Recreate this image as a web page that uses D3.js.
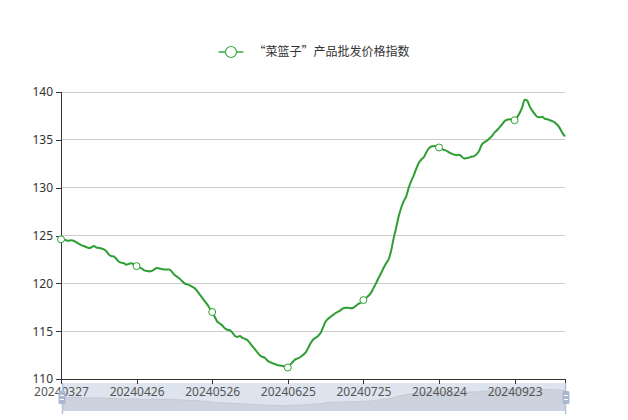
<!DOCTYPE html>
<html><head><meta charset="utf-8">
<script src="https://cdn.jsdelivr.net/npm/d3@7/dist/d3.min.js"></script>
<style>body{margin:0;background:#fff}svg{display:block;font-family:"Noto Sans","Noto Sans CJK SC",sans-serif}</style>
</head><body><svg id="c" width="628" height="420"></svg>
<script>
const seriesName = "“菜篮子”产品批发价格指数";
const startDate = "20240327";
const yTicks = [110, 115, 120, 125, 130, 135, 140];
const values = [
124.6,124.55,124.5,124.45,124.5,124.45,124.3,124.15,124.0,123.9,123.8,123.7,123.75,123.9,123.75,123.7,123.65,123.55,123.35,123.0,122.85,122.8,122.55,122.25,122.15,122.1,121.95,122.05,122.1,121.95,121.8,
121.7,121.55,121.35,121.3,121.25,121.3,121.45,121.6,121.55,121.5,121.45,121.45,121.45,121.2,120.9,120.7,120.5,120.25,120.0,119.9,119.8,119.65,119.5,119.2,118.85,118.5,118.15,117.8,117.4,117.0,
116.5,116.0,115.8,115.6,115.3,115.15,115.1,114.85,114.5,114.4,114.5,114.3,114.2,114.05,113.75,113.4,113.1,112.75,112.45,112.3,112.2,111.9,111.75,111.65,111.55,111.45,111.4,111.35,111.3,111.2,
111.5,111.8,112.05,112.15,112.3,112.5,112.75,113.2,113.7,114.1,114.3,114.5,114.8,115.4,116.0,116.3,116.5,116.7,116.9,117.05,117.2,117.4,117.45,117.45,117.4,117.45,117.65,117.85,118.0,118.25,
118.45,118.7,119.0,119.5,120.0,120.55,121.05,121.6,122.1,122.5,123.4,124.7,125.8,127.0,127.9,128.6,129.1,130.0,130.7,131.3,132.0,132.6,132.95,133.2,133.7,134.1,134.3,134.35,134.3,134.2,
134.05,133.95,133.85,133.7,133.55,133.45,133.4,133.45,133.25,133.05,133.1,133.15,133.25,133.3,133.5,133.9,134.5,134.75,134.9,135.15,135.4,135.75,136.0,136.3,136.6,136.95,137.1,137.15,137.1,137.05,
137.35,137.8,138.4,139.2,139.1,138.5,138.05,137.7,137.4,137.35,137.4,137.2,137.15,137.05,136.95,136.8,136.55,136.2,135.7,135.35
];
const labelInterval = 30;

// categories: consecutive days from start date
const parse = d3.timeParse("%Y%m%d"), fmt = d3.timeFormat("%Y%m%d");
const categories = values.map((v, i) => fmt(d3.timeDay.offset(parse(startDate), i)));

const svg = d3.select("#c");
const L = 61, R = 565, T = 92, B = 379;
const x = d3.scalePoint().domain(categories).range([L, R]);
const y = d3.scaleLinear().domain([110, 140]).range([B, T]);
const green = "#2e9e34";

// gridlines
svg.append("g").selectAll("line").data(yTicks.slice(1)).join("line")
  .attr("x1", L).attr("x2", R).attr("y1", d => y(d)).attr("y2", d => y(d))
  .attr("stroke", "#cccccc").attr("stroke-width", 1).attr("shape-rendering", "crispEdges");

// y axis
const yAxis = svg.append("g").attr("transform", `translate(${L},0)`)
  .call(d3.axisLeft(y).tickValues(yTicks).tickSize(5).tickPadding(3));
yAxis.select(".domain").attr("stroke", "#333").attr("shape-rendering", "crispEdges");
yAxis.selectAll(".tick line").attr("stroke", "#333").attr("shape-rendering", "crispEdges");
yAxis.selectAll("text").attr("fill", "#333").attr("font-size", 12).style("font-family", "'Noto Sans',sans-serif");

// line
const line = d3.line().x((d, i) => x(categories[i])).y(d => y(d)).curve(d3.curveMonotoneX);
svg.append("path").datum(values).attr("d", line).attr("fill", "none")
  .attr("stroke", green).attr("stroke-width", 2).attr("stroke-linejoin", "round");

// symbols at label interval
const symIdx = categories.map((c, i) => i).filter(i => i % labelInterval === 0 && i < values.length - 1);
svg.append("g").selectAll("circle").data(symIdx).join("circle")
  .attr("cx", i => x(categories[i])).attr("cy", i => y(values[i])).attr("r", 3.5)
  .attr("fill", "#fff").attr("stroke", green).attr("stroke-width", 1);

// slider background (dataZoom)
const sT = 383, sB = 411, sL = 62, sR = 566;
svg.append("rect").attr("x", sL).attr("y", sT).attr("width", sR - sL).attr("height", sB - sT)
  .attr("fill", "#dde4ee");
const ext = d3.extent(values), off = (ext[1] - ext[0]) * 0.3;
const ys = d3.scaleLinear().domain([ext[0] - off, ext[1] + off]).range([sB, sT]);
const xs = d3.scalePoint().domain(categories).range([sL, sR]);
const area = d3.area().x((d, i) => xs(categories[i])).y0(sB).y1(d => ys(d)).curve(d3.curveMonotoneX);
svg.append("path").datum(values).attr("d", area).attr("fill", "#ccd3de");
svg.append("path").datum(values).attr("d", d3.line().x((d, i) => xs(categories[i])).y(d => ys(d)).curve(d3.curveMonotoneX))
  .attr("fill", "none").attr("stroke", "#c3cad6").attr("stroke-width", 1);

// x axis
const xTickVals = categories.filter((c, i) => i % labelInterval === 0 || i === categories.length - 1);
const xAxis = svg.append("g").attr("transform", `translate(0,${B})`)
  .call(d3.axisBottom(x).tickValues(xTickVals).tickSize(5).tickPadding(3)
    .tickFormat((d, i) => categories.indexOf(d) % labelInterval === 0 ? d : ""));
xAxis.select(".domain").attr("stroke", "#333").attr("shape-rendering", "crispEdges");
xAxis.selectAll(".tick line").attr("stroke", "#333").attr("shape-rendering", "crispEdges");
xAxis.selectAll("text").attr("fill", "#555").attr("font-size", 12).style("font-family", "'Noto Sans',sans-serif");

// slider handles
svg.append("line").attr("x1", sL + 0.5).attr("x2", sL + 0.5).attr("y1", sT).attr("y2", 414)
  .attr("stroke", "#b4c0d4").attr("stroke-width", 1.5);
svg.append("line").attr("x1", sR - 0.5).attr("x2", sR - 0.5).attr("y1", sT).attr("y2", 414)
  .attr("stroke", "#b4c0d4").attr("stroke-width", 1.5);
[sL, sR].forEach(cx => {
  svg.append("rect").attr("x", cx - 3.5).attr("y", 391).attr("width", 7).attr("height", 13).attr("rx", 1.5)
    .attr("fill", "#a9b8ce");
  [395.5, 399.5].forEach(yy => svg.append("line").attr("x1", cx - 2).attr("x2", cx + 2)
    .attr("y1", yy).attr("y2", yy).attr("stroke", "#fff").attr("stroke-width", 1));
});

// legend
const lg = svg.append("g");
const lgText = lg.append("text").attr("x", 257).attr("y", 52).attr("dy", "0.35em")
  .attr("font-size", 12).attr("fill", "#333")
  .style("font-family", "'Noto Sans CJK SC',sans-serif").text(seriesName);
const tw = lgText.node().getComputedTextLength();
const totalW = 25 + 10 + tw;
const lx = 314 - totalW / 2;
lgText.attr("x", lx + 35);
lg.append("line").attr("x1", lx).attr("x2", lx + 25).attr("y1", 52).attr("y2", 52)
  .attr("stroke", "#3aa845").attr("stroke-width", 1.5);
lg.append("circle").attr("cx", lx + 12.5).attr("cy", 52).attr("r", 5.5)
  .attr("fill", "#fff").attr("stroke", "#3aa845").attr("stroke-width", 1.2);
</script></body></html>
